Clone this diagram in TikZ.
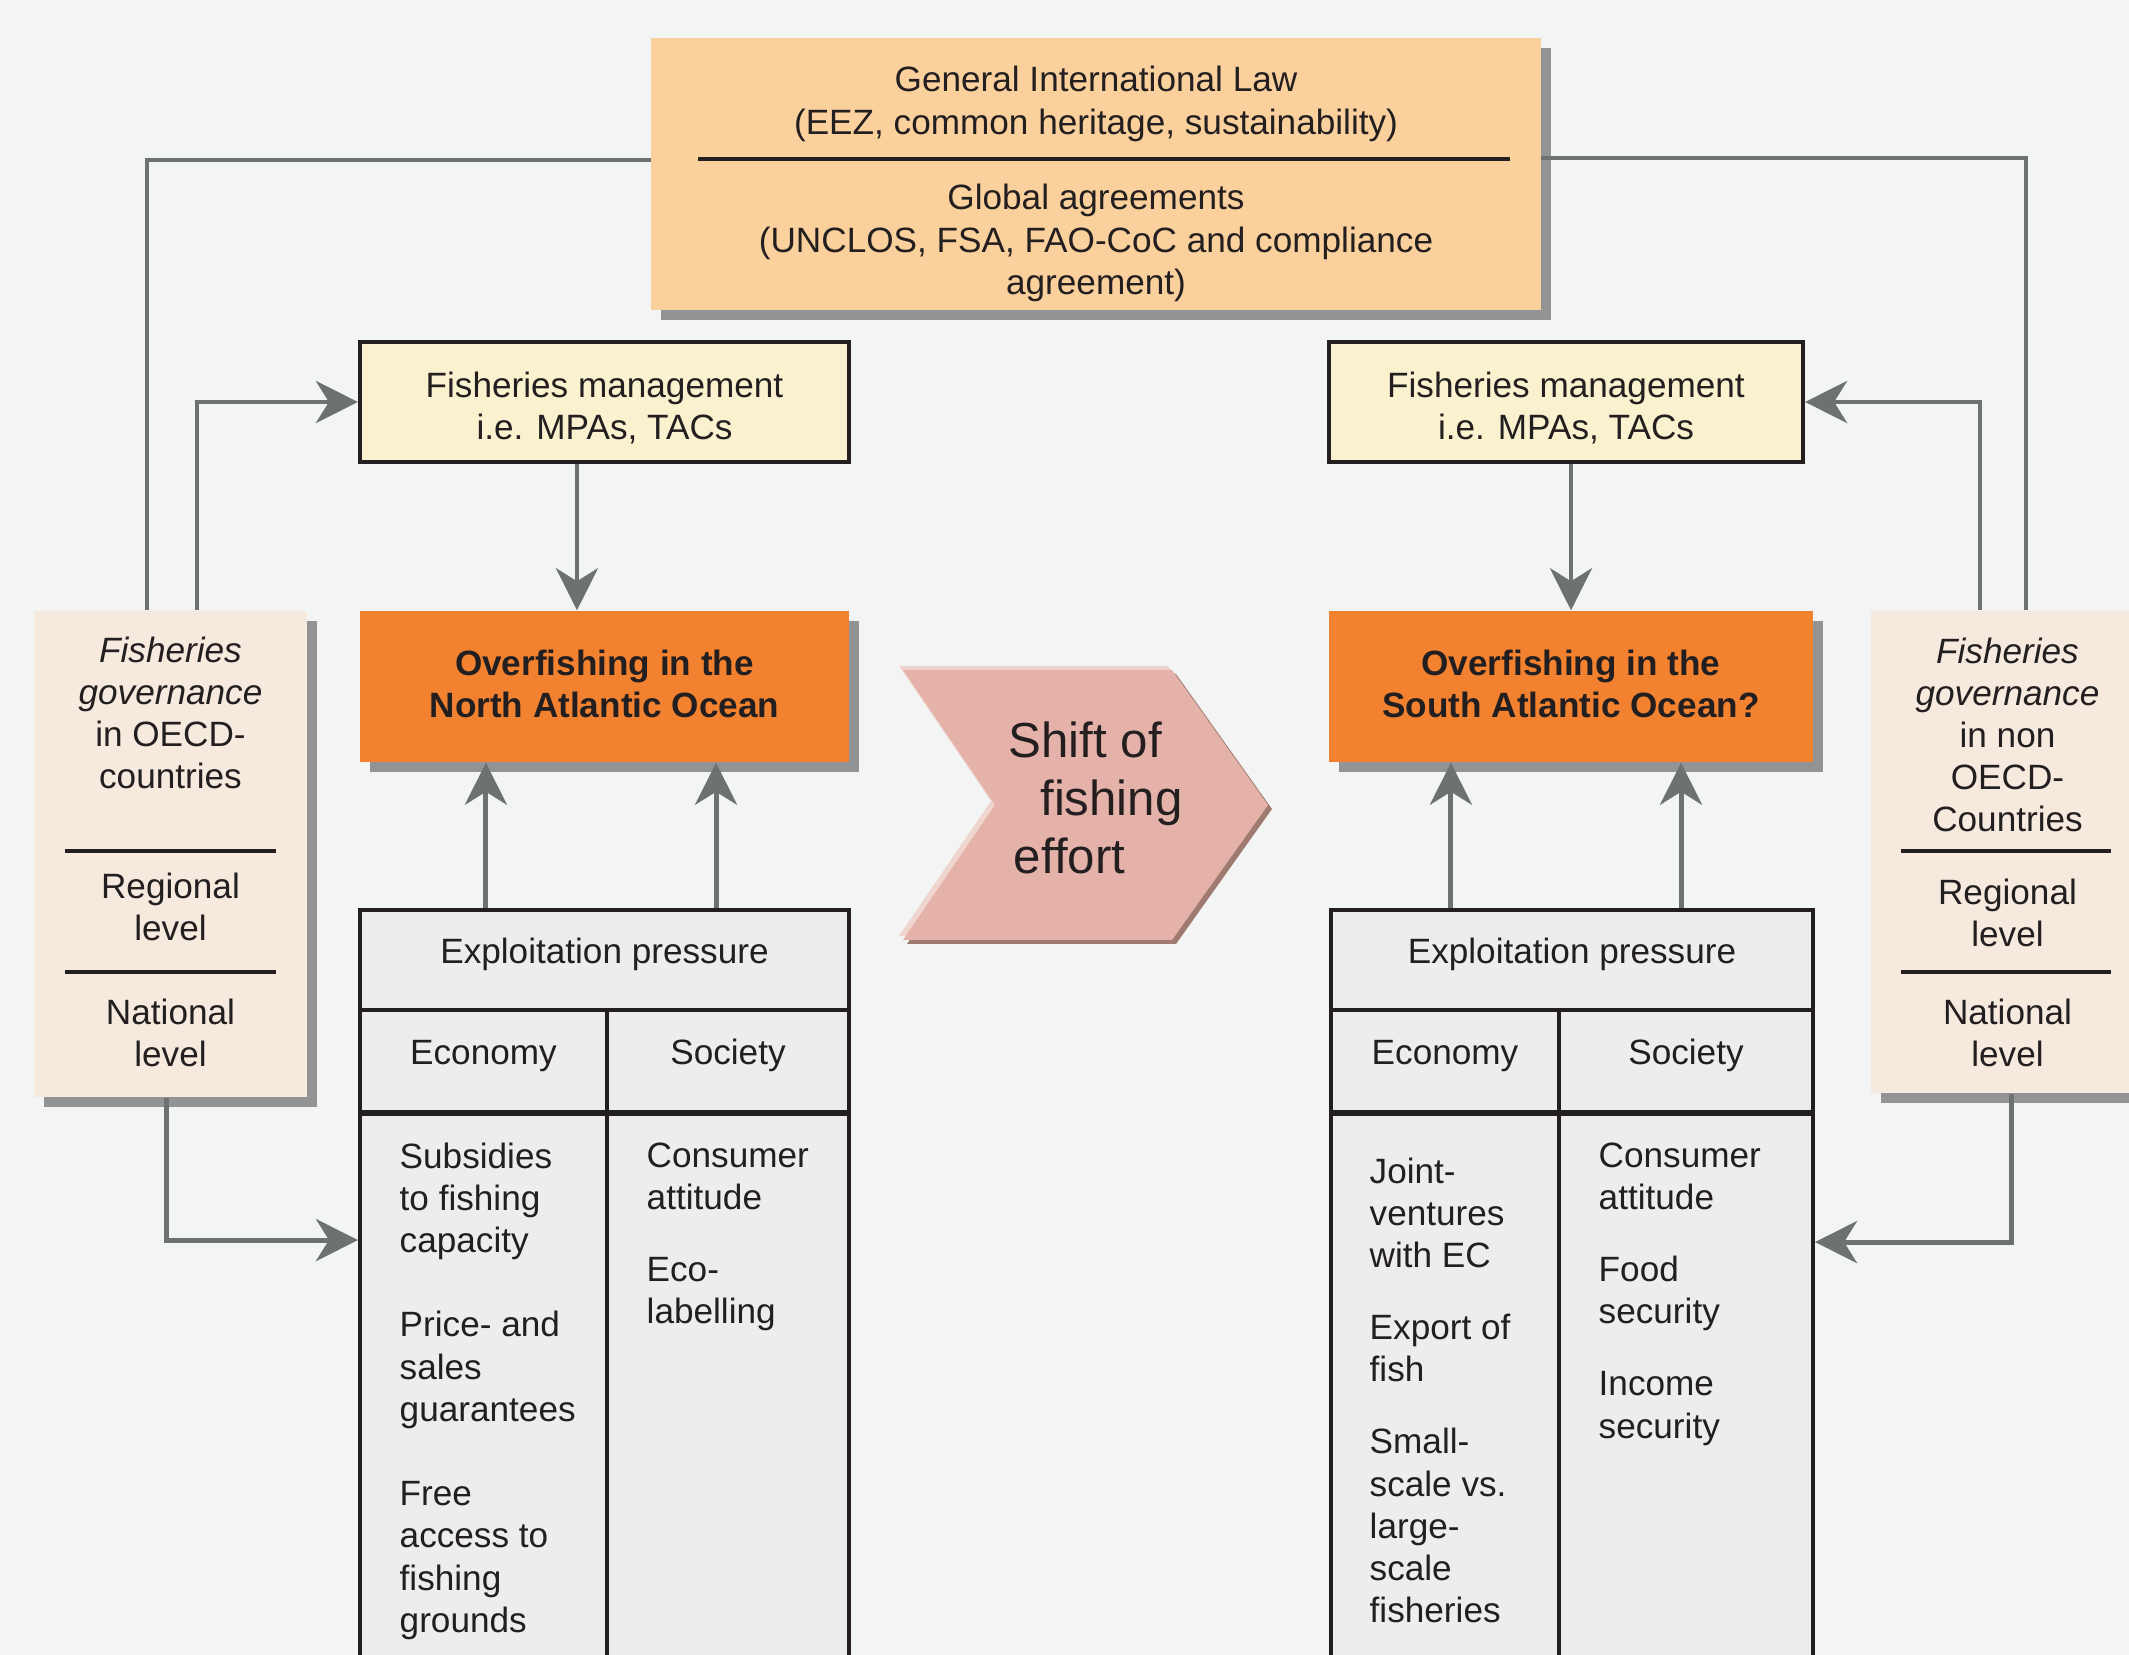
\documentclass[tikz,border=0pt]{standalone}
\usepackage{fontspec}
\setmainfont{Liberation Sans}
\usetikzlibrary{arrows.meta,shadows}

\definecolor{bg}{HTML}{F3F5F4}
\definecolor{txt}{HTML}{231F20}
\definecolor{lawfill}{HTML}{FAD09C}
\definecolor{shadowgrey}{HTML}{929395}
\definecolor{fmfill}{HTML}{FAF1CE}
\definecolor{ofill}{HTML}{F38230}
\definecolor{govfill}{HTML}{F6E9DE}
\definecolor{tablefill}{HTML}{EDEDED}
\definecolor{conngrey}{HTML}{6D7172}
\definecolor{chevfill}{HTML}{E4B2A8}
\definecolor{chevdark}{HTML}{9E7A70}
\definecolor{chevlight}{HTML}{F0D5CE}

\tikzset{
  box/.style={rectangle, inner sep=0pt, align=center},
  shade box/.style={box, drop shadow={shadow xshift=1mm, shadow yshift=-1mm, fill=shadowgrey, opacity=1}},
  mgmt/.style={box, draw=txt, line width=1.1pt, fill=fmfill, minimum height=1.2cm, text height=21.2pt, text depth=0pt},
  cell/.style={box, draw=txt, line width=1.1pt, fill=tablefill, text depth=5pt},
  list/.style={inner sep=0pt, align=left, anchor=north west},
  conn/.style={draw=conngrey, line width=1.4pt, -{Stealth[length=4.2mm, width=4.2mm, inset=1.3mm]}},
  tie/.style={draw=conngrey, line width=1.4pt},
  sep/.style={draw=txt, line width=0.9pt}
}

\begin{document}
\begin{tikzpicture}[x=0.01cm, y=-0.01cm, font=\fontsize{10}{12}\selectfont, text=txt]
  \fill[bg] (0,0) rectangle (2129,1655);
  \useasboundingbox (0,0) rectangle (2129,1655);

  % international law on top
  \node[shade box, fill=lawfill, minimum width=8.89cm, minimum height=2.72cm] (law) at (1096,174) {};
  \node[box] (lawa) at (1096,104) {General International Law\\(EEZ, common heritage, sustainability)};
  \node[box] (lawb) at (1096,243) {Global agreements\\(UNCLOS, FSA, FAO-CoC and compliance\\agreement)};
  \draw[sep] (698,159) -- (1510,159);

  % management
  \node[mgmt, minimum width=4.89cm] (fmL) at (604.5,402) {Fisheries management\\i.e. MPAs, TACs};
  \node[mgmt, minimum width=4.74cm] (fmR) at (1566,402) {Fisheries management\\i.e. MPAs, TACs};

  % overfishing
  \node[shade box, fill=ofill, minimum width=4.89cm, minimum height=1.51cm, text depth=1.5pt, font=\fontsize{10}{12}\selectfont\bfseries]
    (ofL) at (604.5,686.5) {Overfishing in the\\North Atlantic Ocean};
  \node[shade box, fill=ofill, minimum width=4.84cm, minimum height=1.51cm, text depth=1.5pt, font=\fontsize{10}{12}\selectfont\bfseries]
    (ofR) at (1571,686.5) {Overfishing in the\\South Atlantic Ocean?};

  % governance
  \node[shade box, fill=govfill, minimum width=2.73cm, minimum height=4.86cm] (govL) at (170.5,854) {};
  \node[box] (govLa) at (170.5,713) {\textit{Fisheries}\\\textit{governance}\\in OECD-\\countries};
  \node[box] (govLb) at (170.5,907) {Regional\\level};
  \node[box] (govLc) at (170.5,1033) {National\\level};
  \draw[sep] (65,851) -- (276,851);
  \draw[sep] (65,972) -- (276,972);

  \node[shade box, fill=govfill, minimum width=2.73cm, minimum height=4.82cm] (govR) at (2007.5,852) {};
  \node[box] (govRa) at (2007.5,735) {\textit{Fisheries}\\\textit{governance}\\in non\\OECD-\\Countries};
  \node[box] (govRb) at (2007.5,913) {Regional\\level};
  \node[box] (govRc) at (2007.5,1033) {National\\level};
  \draw[sep] (1901,851) -- (2111,851);
  \draw[sep] (1901,972) -- (2111,972);

  % shift chevron
  \foreach \dx/\dy/\col in {-4/-4/chevlight, 4/4/chevdark, 0/0/chevfill}
    \fill[\col, shift={(\dx,\dy)}] (903,670) -- (1172,670) -- (1268,805) -- (1172,940) -- (903,940) -- (995,805) -- cycle;
  \node[inner sep=0pt, align=left, anchor=west, font=\fontsize{14}{16.5}\selectfont]
    (shift) at (1008,798) {Shift of\\\hspace*{9pt}fishing\\\hspace*{1.5pt}effort};

  % pressure tables
  \node[cell, minimum width=4.89cm, minimum height=1cm] (epL) at (604.5,960) {Exploitation pressure};
  \node[cell, minimum width=2.47cm, minimum height=1.02cm] (ecoL) at (483.5,1061) {Economy};
  \node[cell, minimum width=2.42cm, minimum height=1.02cm] (socL) at (728,1061) {Society};
  \node[cell, minimum width=2.47cm, minimum height=6cm, anchor=north] (ecoLb) at (483.5,1112) {};
  \node[cell, minimum width=2.42cm, minimum height=6cm, anchor=north] (socLb) at (728,1112) {};
  \node[list] (itemsLa) at (399,1142) {Subsidies\\to fishing\\capacity\\[12pt]Price- and\\sales\\guarantees\\[12pt]Free\\access to\\fishing\\grounds};
  \node[list] (itemsLb) at (646,1142) {Consumer\\attitude\\[8.5pt]Eco-\\labelling};

  \node[cell, minimum width=4.82cm, minimum height=1cm] (epR) at (1572,960) {Exploitation pressure};
  \node[cell, minimum width=2.28cm, minimum height=1.02cm] (ecoR) at (1445,1061) {Economy};
  \node[cell, minimum width=2.54cm, minimum height=1.02cm] (socR) at (1686,1061) {Society};
  \node[cell, minimum width=2.28cm, minimum height=6cm, anchor=north] (ecoRb) at (1445,1112) {};
  \node[cell, minimum width=2.54cm, minimum height=6cm, anchor=north] (socRb) at (1686,1112) {};
  \node[list] (itemsRa) at (1369,1157) {Joint-\\ventures\\with EC\\[8.5pt]Export of\\fish\\[8.5pt]Small-\\scale vs.\\large-\\scale\\fisheries};
  \node[list] (itemsRb) at (1598,1142) {Consumer\\attitude\\[8.5pt]Food\\security\\[8.5pt]Income\\security};

  % connectors
  \draw[conn] ([xshift=-2.75mm]fmL.south) -- ([xshift=-2.75mm]fmL.south |- ofL.north);
  \draw[conn] ([xshift=0.5mm]fmR.south) -- ([xshift=0.5mm]fmR.south |- ofR.north);
  \draw[conn] ([xshift=-11.85mm]epL.north) -- ([xshift=-11.85mm]epL.north |- ofL.south);
  \draw[conn] ([xshift=11.15mm]epL.north) -- ([xshift=11.15mm]epL.north |- ofL.south);
  \draw[conn] ([xshift=-12.1mm]epR.north) -- ([xshift=-12.1mm]epR.north |- ofR.south);
  \draw[conn] ([xshift=10.9mm]epR.north) -- ([xshift=10.9mm]epR.north |- ofR.south);

  \draw[tie] ([xshift=-2.35mm]govL.north) |- ([yshift=1.4mm]law.west);
  \draw[conn] ([xshift=2.65mm]govL.north) |- (fmL.west);
  \draw[conn] ([xshift=-0.4mm]govL.south) |- ([yshift=-12.8mm]ecoLb.north west);
  \draw[tie] ([xshift=1.85mm]govR.north) |- ([yshift=1.6mm]law.east);
  \draw[conn] ([xshift=-2.75mm]govR.north) |- (fmR.east);
  \draw[conn] ([xshift=0.4mm]govR.south) |- ([yshift=-13mm]socRb.north east);
\end{tikzpicture}
\end{document}
